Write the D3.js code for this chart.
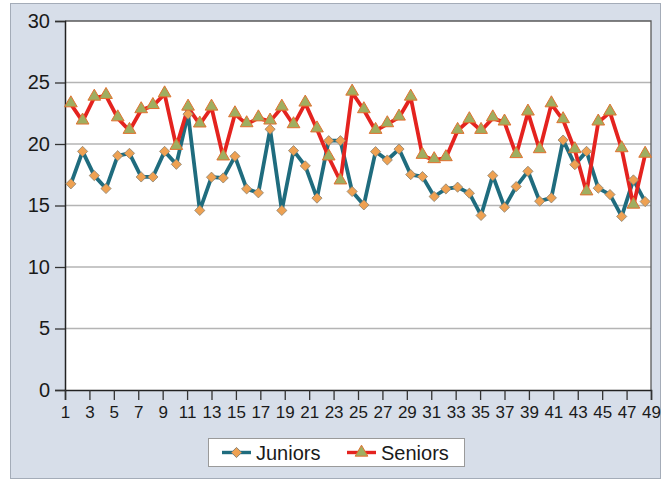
<!DOCTYPE html>
<html>
<head>
<meta charset="utf-8">
<script src="https://cdn.jsdelivr.net/npm/d3@7"></script>
<style>
  body { margin: 0; background: #fff; }
  text { font-family: "Liberation Sans", Arial, sans-serif; fill: #1a1a1a; }
</style>
</head>
<body>
<div id="chart"></div>
<script>
// 1. Data
const points = d3.range(1, 51)   // 50 observations
const juniors = [16.76, 19.4, 17.43, 16.38, 19.05, 19.24, 17.32, 17.32, 19.4, 18.35, 22.43, 14.6,
  17.3, 17.24, 19.0, 16.35, 16.03, 21.2, 14.6, 19.46, 18.22, 15.6, 20.27, 20.27,
  16.14, 15.05, 19.38, 18.7, 19.59, 17.51, 17.35, 15.73, 16.35, 16.49, 16.0, 14.19,
  17.43, 14.86, 16.54, 17.78, 15.35, 15.62, 20.32, 18.32, 19.4, 16.41, 15.89, 14.11, 17.08, 15.32]
const seniors = [23.24, 21.84, 23.78, 23.92, 22.1, 21.08, 22.76, 23.1, 24.05, 19.78, 22.97, 21.6,
  22.97, 18.92, 22.43, 21.62, 22.1, 21.84, 22.97, 21.54, 23.3, 21.2, 18.92, 16.97,
  24.19, 22.76, 21.08, 21.62, 22.16, 23.78, 19.05, 18.7, 18.86, 21.08, 21.95, 21.08,
  22.1, 21.76, 19.11, 22.57, 19.51, 23.24, 21.95, 19.51, 16.08, 21.76, 22.57, 19.59, 15.0, 19.14]
const xTickLabels = [1, 3, 5, 7, 9, 11, 13, 15, 17, 19, 21, 23, 25, 27, 29, 31, 33, 35, 37, 39, 41, 43, 45, 47, 49]
const yTickLabels = [0, 5, 10, 15, 20, 25, 30]
const seriesNames = ["Juniors", "Seniors"]

// 2. Dimensions
const width = 670, height = 481
const plot = { left: 65, right: 651, top: 21, bottom: 390 }

const svg = d3.select("#chart").append("svg")
    .attr("width", width)
    .attr("height", height)

// outer chart area
svg.append("rect")
    .attr("x", 10.5).attr("y", 3.5)
    .attr("width", 650).attr("height", 475)
    .attr("fill", "#d7dee9")
    .attr("stroke", "#a4acb8")

svg.append("rect")
    .attr("x", plot.left).attr("y", plot.top)
    .attr("width", plot.right - plot.left).attr("height", plot.bottom - plot.top)
    .attr("fill", "#fff")

// 3. Scales
const xPoint = d3.scalePoint()
    .domain(points)
    .range([plot.left, plot.right])
    .padding(0.5)

const xAxisScale = d3.scaleLinear()
    .domain([1, 49])
    .range([plot.left, plot.right])

const y = d3.scaleLinear()
    .domain([0, 30])
    .range([plot.bottom, plot.top])

// gridlines
svg.append("g")
  .selectAll("line")
  .data(yTickLabels.filter(d => d > 0 && d < 30))
  .join("line")
    .attr("x1", plot.left).attr("x2", plot.right)
    .attr("y1", d => y(d)).attr("y2", d => y(d))
    .attr("stroke", "#b4b4b4")
    .attr("stroke-width", 1.3)

// plot border (top / right)
svg.append("path")
    .attr("d", `M${plot.left},${plot.top}H${plot.right}V${plot.bottom}`)
    .attr("fill", "none")
    .attr("stroke", "#5a5a5a")
    .attr("stroke-width", 1.3)

// 4. Axes
const yAxis = svg.append("g")
    .attr("transform", `translate(${plot.left},0)`)
    .call(d3.axisLeft(y).tickValues(yTickLabels).tickSize(10).tickPadding(5))
yAxis.select(".domain").attr("stroke", "#222").attr("stroke-width", 1.5)
yAxis.selectAll(".tick line").attr("stroke", "#333").attr("stroke-width", 1.3)
yAxis.selectAll("text").style("font-size", "20px").attr("fill", "#1a1a1a")

const xAxis = svg.append("g")
    .attr("transform", `translate(0,${plot.bottom})`)
    .call(d3.axisBottom(xAxisScale).tickValues(xTickLabels).tickSize(10).tickPadding(6).tickFormat(d3.format("d")))
xAxis.select(".domain").attr("stroke", "#222").attr("stroke-width", 1.5)
xAxis.selectAll(".tick line").attr("stroke", "#333").attr("stroke-width", 1.3)
xAxis.selectAll("text").style("font-size", "17px").attr("fill", "#1a1a1a")

// 5. Lines and markers
const line = d3.line()
    .x((d, i) => xPoint(points[i]))
    .y(d => y(d))

const diamond = d3.symbol().type(d3.symbolDiamond2).size(66)
const triangle = d3.symbol().type(d3.symbolTriangle).size(70)

const juniorColor = "#1f6c7e"
const seniorColor = "#e4231f"

svg.append("path")
    .datum(juniors)
    .attr("d", line)
    .attr("fill", "none")
    .attr("stroke", juniorColor)
    .attr("stroke-width", 3.8)
    .attr("stroke-linejoin", "round")

svg.append("path")
    .datum(seniors)
    .attr("d", line)
    .attr("fill", "none")
    .attr("stroke", seniorColor)
    .attr("stroke-width", 3.8)
    .attr("stroke-linejoin", "round")

svg.append("g")
  .selectAll("path")
  .data(juniors)
  .join("path")
    .attr("d", diamond)
    .attr("transform", (d, i) => `translate(${xPoint(points[i])},${y(d)})`)
    .attr("fill", "#eea152")
    .attr("stroke", "#8a8170")
    .attr("stroke-width", 0.8)

svg.append("g")
  .selectAll("path")
  .data(seniors)
  .join("path")
    .attr("d", triangle)
    .attr("transform", (d, i) => `translate(${xPoint(points[i])},${y(d) - 1})`)
    .attr("fill", "#9fae60")
    .attr("stroke", "#e2712f")
    .attr("stroke-width", 1)

// 6. Legend
const legend = svg.append("g")
legend.append("rect")
    .attr("x", 208.5).attr("y", 438.5)
    .attr("width", 256).attr("height", 28)
    .attr("fill", "#fff")
    .attr("stroke", "#9a9a9a")

const legendItems = [
  { name: seriesNames[0], x: 222, color: juniorColor, sym: diamond, fill: "#eea152", stroke: "#8a8170" },
  { name: seriesNames[1], x: 347, color: seniorColor, sym: triangle, fill: "#9fae60", stroke: "#e2712f" },
]
legendItems.forEach(it => {
  legend.append("line")
      .attr("x1", it.x).attr("x2", it.x + 29)
      .attr("y1", 452.5).attr("y2", 452.5)
      .attr("stroke", it.color)
      .attr("stroke-width", 3.4)
  legend.append("path")
      .attr("d", it.sym)
      .attr("transform", `translate(${it.x + 14.5},452.5)`)
      .attr("fill", it.fill)
      .attr("stroke", it.stroke)
  legend.append("text")
      .attr("x", it.x + 34)
      .attr("y", 460)
      .style("font-size", "20px")
      .text(it.name)
})
</script>
</body>
</html>
